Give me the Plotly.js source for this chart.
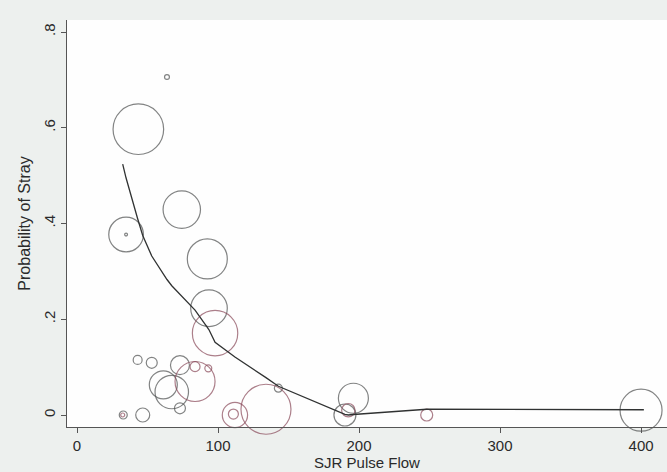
<!DOCTYPE html>
<html>
<head>
<meta charset="utf-8">
<script src="https://cdn.plot.ly/plotly-3.0.1.min.js"></script>
<style>
  html, body { margin: 0; padding: 0; background: #edf0ee; }
  #chart { width: 667px; height: 472px; }
</style>
</head>
<body>
<div id="chart"></div>
<script>
// Release groups: pulse flow (x), probability of straying (y), bubble weight (marker area)
const flowA   = [63.8, 43.5, 34.8, 34.8, 74.3, 92.4, 93.6, 43.0, 53.0, 73.0, 61.2, 67.2, 73.0, 32.8, 46.6, 142.8, 196.0, 190.0, 400.0];
const strayA  = [0.706, 0.597, 0.377, 0.377, 0.429, 0.326, 0.223, 0.115, 0.109, 0.104, 0.063, 0.048, 0.014, 0.0, 0.0, 0.056, 0.035, 0.0, 0.010];
const weightA = [6, 640, 300, 2, 350, 400, 335, 20, 30, 90, 196, 280, 30, 16, 49, 16, 225, 121, 441];

const flowB   = [97.9, 83.7, 93.1, 83.7, 32.4, 112.0, 110.9, 134.0, 192.4, 248.0];
const strayB  = [0.171, 0.101, 0.0975, 0.070, 0.0, 0.0, 0.002, 0.012, 0.010, 0.0];
const weightB = [515, 25, 12, 400, 4, 160, 25, 625, 45, 36];

// Lowess smooth of stray probability on pulse flow
const smoothX = [32.4, 32.8, 34.8, 43.0, 46.6, 53.0, 61.2, 63.8, 67.2, 73.0, 74.3, 83.7, 92.4, 93.6, 97.9, 110.9, 112.0, 134.0, 142.8, 190.0, 192.4, 196.0, 248.0, 402.0];
const smoothY = [0.524, 0.52, 0.495, 0.41, 0.375, 0.332, 0.293, 0.283, 0.270, 0.252, 0.247, 0.219, 0.183, 0.178, 0.152, 0.124, 0.121, 0.078, 0.060, 0.0015, 0.0, 0.001, 0.012, 0.011];

// Axis ticks
const xTickVals = [0, 100, 200, 300, 400];
const xTickText = ['0', '100', '200', '300', '400'];
const yTickVals = [0, 0.2, 0.4, 0.6, 0.8];
const yTickText = ['0', '.2', '.4', '.6', '.8'];

const grey = '#4e5050';
const maroon = '#8a4a5a';

function bubbles(x, y, w, color) {
  return {
    type: 'scatter', mode: 'markers', x: x, y: y,
    cliponaxis: false,
    marker: {
      size: w, sizemode: 'area', sizeref: 0.5,
      color: 'rgba(0,0,0,0)',
      line: { color: color, width: 1.2 }
    },
    hoverinfo: 'skip', showlegend: false
  };
}

const traces = [
  bubbles(flowA, strayA, weightA, grey),
  bubbles(flowB, strayB, weightB, maroon),
  {
    type: 'scatter', mode: 'lines', x: smoothX, y: smoothY,
    line: { color: '#303232', width: 1.3 },
    hoverinfo: 'skip', showlegend: false
  }
];

const font = { family: 'Liberation Sans, Arial, sans-serif', size: 15, color: '#2a2a2a' };
const yTitleFont = { family: 'Liberation Sans, Arial, sans-serif', size: 16, color: '#2a2a2a' };

const layout = {
  width: 667, height: 472,
  margin: { l: 67, r: 0, t: 20, b: 45 },
  paper_bgcolor: '#edf0ee',
  plot_bgcolor: '#fefefe',
  font: font,
  xaxis: {
    range: [-7.1, 418.4],
    tickvals: xTickVals, ticktext: xTickText,
    ticks: 'outside', ticklen: 5, tickcolor: '#555', tickwidth: 1,
    showgrid: false, zeroline: false,
    showline: true, linecolor: '#555', linewidth: 1,
    tickfont: font,
    title: { text: 'SJR Pulse Flow', font: font, standoff: 4 }
  },
  yaxis: {
    range: [-0.02507, 0.8251],
    tickvals: yTickVals, ticktext: yTickText,
    tickangle: -90,
    ticks: 'outside', ticklen: 5, tickcolor: '#555', tickwidth: 1,
    showgrid: false, zeroline: false,
    showline: true, linecolor: '#555', linewidth: 1,
    tickfont: font,
    title: { text: 'Probability of Stray', font: yTitleFont, standoff: 6 }
  }
};

Plotly.newPlot('chart', traces, layout, { staticPlot: true, displayModeBar: false });
</script>
</body>
</html>
